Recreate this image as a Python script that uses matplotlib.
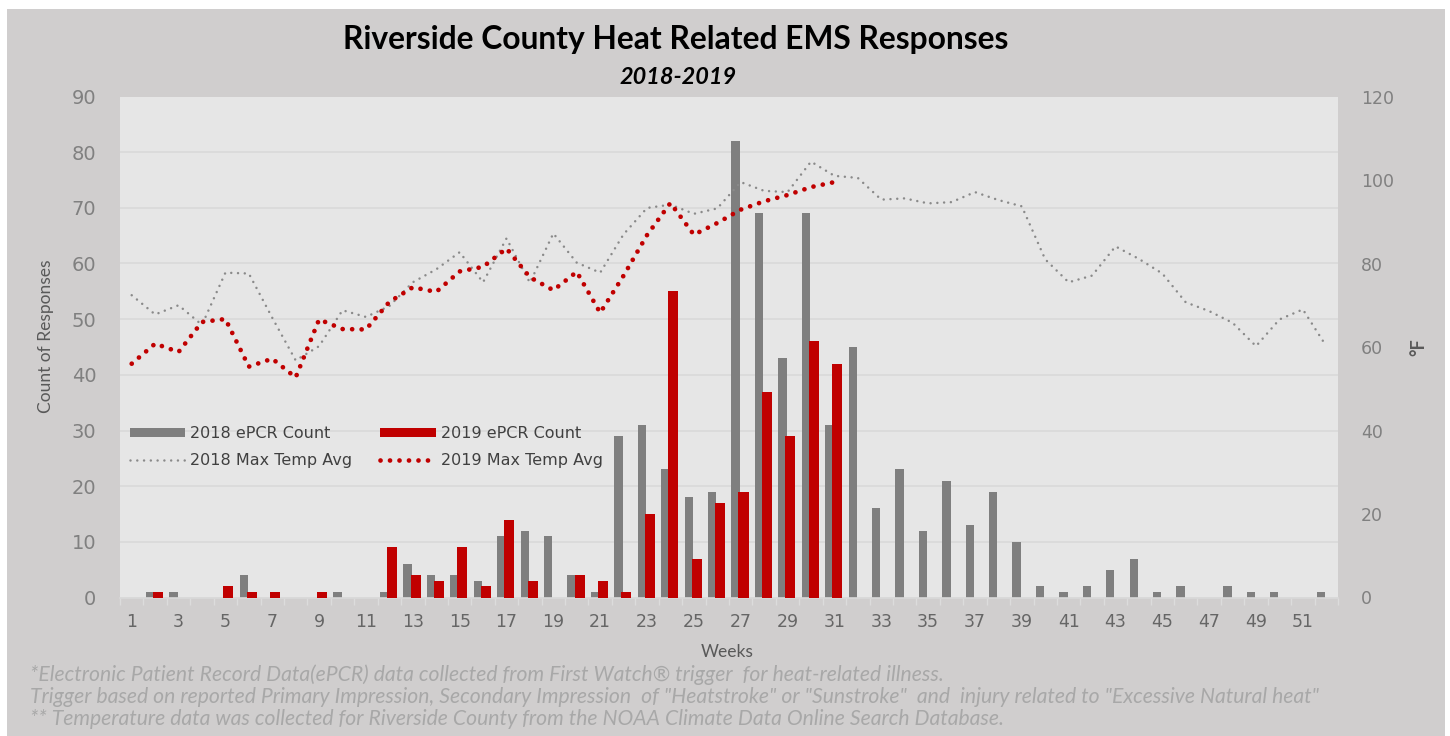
import matplotlib
matplotlib.use("Agg")
import matplotlib.pyplot as plt
from matplotlib import font_manager
from matplotlib.patches import Rectangle, Patch
from matplotlib.lines import Line2D
import numpy as np

# ---- data -------------------------------------------------------------
weeks = list(range(1, 53))
week_labels = [str(w) if w % 2 == 1 else "" for w in weeks]

ems_2018 = [0, 1, 1, 0, 0, 4, 0, 0, 0, 1, 0, 1, 6, 4, 4, 3, 11, 12, 11, 4,
            1, 29, 31, 23, 18, 19, 82, 69, 43, 69, 31, 45, 16, 23, 12, 21,
            13, 19, 10, 2, 1, 2, 5, 7, 1, 2, 0, 2, 1, 1, 0, 1]
ems_2019 = [0, 1, 0, 0, 2, 1, 1, 0, 1, 0, 0, 9, 4, 3, 9, 2, 14, 3, 0, 4,
            3, 1, 15, 55, 7, 17, 19, 37, 29, 46, 42]

temp_2018 = [72.4, 67.8, 70.0, 65.3, 77.8, 77.6, 67.0, 56.8, 60.2, 68.8,
             67.2, 69.8, 75.5, 78.6, 82.7, 75.5, 86.0, 75.4, 87.2, 80.2,
             77.8, 87.0, 93.3, 94.1, 91.9, 93.2, 99.5, 97.4, 97.1, 104.4,
             101.0, 100.5, 95.3, 95.6, 94.4, 94.7, 97.1, 95.2, 93.7, 81.0,
             75.5, 77.1, 84.1, 81.1, 77.6, 70.7, 68.6, 65.8, 60.2, 66.6,
             69.0, 60.2]
temp_2019 = [56.0, 60.8, 58.8, 66.0, 66.7, 55.3, 57.2, 52.7, 66.6, 64.3,
             64.2, 70.8, 74.3, 73.2, 78.1, 79.2, 83.6, 76.7, 73.6, 78.0,
             68.2, 77.1, 86.8, 94.5, 86.9, 89.7, 92.9, 94.9, 96.4, 98.3,
             99.5]

count_ticks = list(range(0, 91, 10))
temp_ticks = list(range(0, 121, 20))

# ---- fonts ------------------------------------------------------------
installed = {f.name for f in font_manager.fontManager.ttflist}
narrow = "Liberation Sans Narrow" if "Liberation Sans Narrow" in installed else "Lato"
note_size = 14 if narrow != "Lato" else 15.2
plt.rcParams["font.family"] = ["DejaVu Sans"]

# ---- colours ----------------------------------------------------------
BG_OUTER = "#d0cece"
BG_PLOT = "#e6e6e6"
GRID = "#d9d9d9"
GRAY_BAR = "#7f7f7f"
RED = "#c00000"
GRAY_LINE = "#8a8a8a"

W, H = 1450, 736
fig = plt.figure(figsize=(W / 100, H / 100), dpi=100)
fig.patch.set_facecolor("white")
fig.patches.append(Rectangle((7 / W, 0), (1445 - 7) / W, (H - 9) / H,
                             transform=fig.transFigure, facecolor=BG_OUTER,
                             edgecolor="none", zorder=-10))

left, right, top, bottom = 120, 1338, 96.5, 597.5
ax = fig.add_axes([left / W, (H - bottom) / H, (right - left) / W, (bottom - top) / H])
ax.set_facecolor(BG_PLOT)

x18 = np.array(weeks)
x19 = np.array(weeks[:len(ems_2019)])
ax.bar(x18 - 0.22, ems_2018, width=0.355, color=GRAY_BAR, zorder=2)
ax.bar(x19 + 0.12, ems_2019, width=0.43, color=RED, zorder=3)

ax.set_xlim(0.5, 52.5)
ax.set_ylim(0, 90)
ax.set_yticks(count_ticks)
ax.set_axisbelow(True)
ax.yaxis.grid(True, color=GRID, linewidth=1.2)
for s in ("top", "left", "right"):
    ax.spines[s].set_visible(False)
ax.spines["bottom"].set_color(GRID)
ax.spines["bottom"].set_linewidth(1.2)

ax.set_xticks(weeks)
ax.set_xticklabels(week_labels)
ax.set_xticks(np.arange(0.5, 53, 1.0), minor=True)
ax.tick_params(axis="x", which="major", length=0, pad=11, labelsize=12.5,
               labelcolor="#666666")
ax.tick_params(axis="x", which="minor", length=5, width=1, color="#dcdcdc")
ax.tick_params(axis="y", length=0, pad=17, labelsize=14, labelcolor="#808080")

ax2 = ax.twinx()
ax2.set_ylim(0, 120)
ax2.set_yticks(temp_ticks)
ax2.patch.set_visible(False)
for s in ax2.spines.values():
    s.set_visible(False)
ax2.tick_params(axis="y", length=0, pad=16.5, labelsize=12.5, labelcolor="#808080")

ax2.plot(weeks, temp_2018, color=GRAY_LINE, linewidth=1.8,
         linestyle=(0, (0.01, 2.7)), dash_capstyle="round", zorder=4)
ax2.plot(weeks[:len(temp_2019)], temp_2019, color=RED, linewidth=3.4,
         linestyle=(0, (0.01, 2.0)), dash_capstyle="round", zorder=5)

# ---- legend -----------------------------------------------------------
handles = [
    Patch(facecolor=GRAY_BAR, edgecolor="none", label="2018 ePCR Count"),
    Line2D([], [], color=GRAY_LINE, linewidth=1.8, linestyle=(0, (0.01, 2.7)),
           dash_capstyle="round", label="2018 Max Temp Avg"),
    Patch(facecolor=RED, edgecolor="none", label="2019 ePCR Count"),
    Line2D([], [], color=RED, linewidth=3.4, linestyle=(0, (0.01, 2.0)),
           dash_capstyle="round", label="2019 Max Temp Avg"),
]
leg = fig.legend(handles=handles, ncol=2, loc="upper left",
                 bbox_to_anchor=(130 / W, 1 - 426 / H), frameon=False,
                 fontsize=11.5, handlelength=3.45, handleheight=0.55,
                 handletextpad=0.33, columnspacing=1.75, labelspacing=0.75,
                 borderpad=0, borderaxespad=0)
for t in leg.get_texts():
    t.set_color("#404040")

# ---- titles and axis names --------------------------------------------
fig.text(676 / W, 1 - 49 / H, "Riverside County Heat Related EMS Responses",
         ha="center", va="baseline", fontsize=22.9, fontweight="bold",
         family="Lato", color="#000000")
fig.text(678 / W, 1 - 84 / H, "2018-2019", ha="center", va="baseline",
         fontsize=16.9, fontweight="bold", fontstyle="italic", family="Lato",
         color="#000000")
fig.text(46 / W, 1 - 336 / H, "Count of Responses", rotation=90,
         ha="center", va="center", fontsize=12.5, family="Lato",
         color="#595959")
fig.text(727 / W, 1 - 652 / H, "Weeks", ha="center", va="center",
         fontsize=12.5, family="Lato", color="#595959")
fig.text(1419 / W, 1 - 347 / H, "°F", rotation=90, ha="center", va="center",
         fontsize=13, fontweight="bold", family="Lato", color="#595959")

notes = [
    "*Electronic Patient Record Data(ePCR) data collected from First Watch\u00ae trigger  for heat-related illness.",
    "Trigger based on reported Primary Impression, Secondary Impression  of \"Heatstroke\" or \"Sunstroke\"  and  injury related to \"Excessive Natural heat\"",
    "** Temperature data was collected for Riverside County from the NOAA Climate Data Online Search Database.",
]
for i, line in enumerate(notes):
    fig.text(30 / W, 1 - (675 + 22 * i) / H, line, ha="left", va="center",
             fontsize=note_size, fontstyle="italic", family=narrow,
             color="#a8a8a8")

fig.savefig("out.png", dpi=100, facecolor=fig.get_facecolor())
